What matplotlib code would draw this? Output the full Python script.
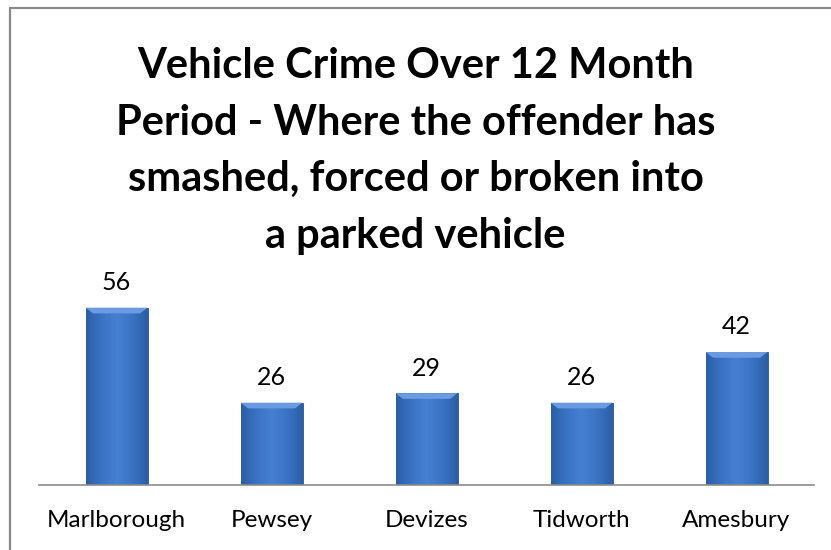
import numpy as np
import matplotlib.pyplot as plt
from matplotlib.patches import Rectangle, Polygon
from matplotlib.colors import LinearSegmentedColormap

plt.rcParams['font.family'] = ['Lato', 'DejaVu Sans']

towns = ["Marlborough", "Pewsey", "Devizes", "Tidworth", "Amesbury"]
crimes = [56, 26, 29, 26, 42]
title = ("Vehicle Crime Over 12 Month\nPeriod - Where the offender has\n"
         "smashed, forced or broken into\na parked vehicle")

W, H = 831, 550
fig = plt.figure(figsize=(W / 100, H / 100), dpi=100)
fig.patch.set_facecolor("white")

# outer chart border (cut off at right and bottom in the original)
fig.patches.append(Rectangle((10 / W, -0.1), 1.2, 1.1 - 8 / H, transform=fig.transFigure,
                             fill=False, edgecolor="#8a8a8a", linewidth=1.6))

ax = fig.add_axes([39 / W, 65 / H, 775 / W, 190 / H])
x = np.arange(len(towns))
bw = 0.4
bars = ax.bar(x, crimes, width=bw, color="#3b6fc0", edgecolor="#2a5591", linewidth=0.6, zorder=2)

grad = LinearSegmentedColormap.from_list("bev", ["#2c5ea4", "#3b73c4", "#4680d2", "#3b73c4", "#2c5ea4"])
g = np.linspace(0, 1, 64).reshape(1, -1)
for b, v in zip(bars, crimes):
    x0, w = b.get_x(), b.get_width()
    im = ax.imshow(g, cmap=grad, extent=(x0, x0 + w, 0, v), aspect="auto", zorder=2.5)
    im.set_clip_path(b)
    # light bevel at top of each bar
    dx = w * 0.12
    dy = 60 * 0.03
    ax.add_patch(Polygon([(x0, v), (x0 + w, v), (x0 + w - dx, v - dy), (x0 + dx, v - dy)],
                         closed=True, facecolor="#6a9be0", edgecolor="none", zorder=3))
    ax.text(x0 + w / 2, v + 7.9, str(v), ha="center", va="center", fontsize=18, color="black")

ax.set_xlim(-0.5, len(towns) - 0.5)
ax.set_ylim(0, 60)
ax.set_xticks(x)
ax.set_xticklabels(towns, fontsize=17.5)
ax.tick_params(axis="x", length=0, pad=18)
ax.set_yticks([])
for s in ["top", "right", "left"]:
    ax.spines[s].set_visible(False)
ax.spines["bottom"].set_color("#8c8c8c")
ax.spines["bottom"].set_linewidth(1.2)
ax.spines["bottom"].set_zorder(4)
ax.patch.set_alpha(0)

fig.text(0.5, 1 - 151 / H, title, ha="center", va="center", fontsize=30,
         fontweight="bold", linespacing=1.6)

fig.savefig("out.png", dpi=100)
